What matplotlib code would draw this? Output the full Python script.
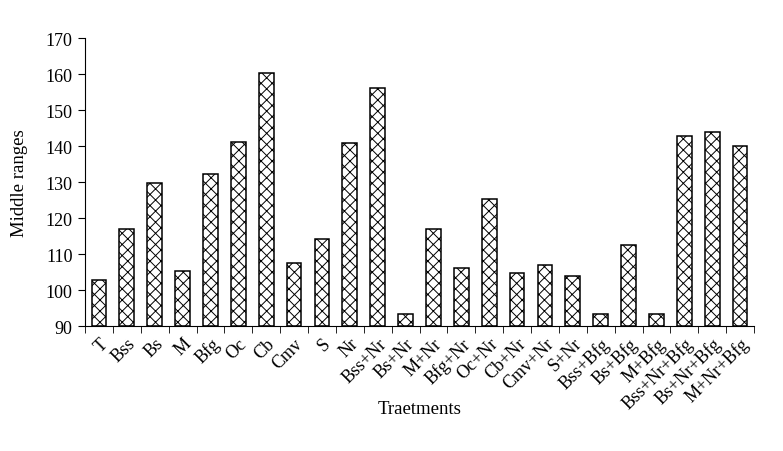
import numpy as np
import matplotlib.pyplot as plt

plt.rcParams['font.family'] = ['Liberation Serif', 'DejaVu Serif']
plt.rcParams['hatch.linewidth'] = 0.7

treatments = ['T', 'Bss', 'Bs', 'M', 'Bfg', 'Oc', 'Cb', 'Cmv', 'S', 'Nr',
              'Bss+Nr', 'Bs+Nr', 'M+Nr', 'Bfg+Nr', 'Oc+Nr', 'Cb+Nr', 'Cmv+Nr',
              'S+Nr', 'Bss+Bfg', 'Bs+Bfg', 'M+Bfg', 'Bss+Nr+Bfg', 'Bs+Nr+Bfg',
              'M+Nr+Bfg']
middle_ranges = [102.9, 117.1, 129.9, 105.4, 132.3, 141.2, 160.4, 107.7, 114.3,
                 140.9, 156.2, 93.5, 117.1, 106.3, 125.4, 104.9, 107.1, 104.1,
                 93.5, 112.7, 93.5, 142.9, 144.0, 140.1]

fig = plt.figure(figsize=(7.83, 4.52), dpi=100)
ax = fig.add_axes([0.1086, 0.276, 0.8544, 0.637])

x = np.arange(len(treatments))
ax.bar(x, np.array(middle_ranges) - 90, bottom=90, width=0.53,
       color='white', edgecolor='black', linewidth=1.1, hatch='xxx')

ax.set_ylim(90, 170)
ax.set_yticks(np.arange(90, 171, 10))
ax.set_xlim(-0.5, len(treatments) - 0.5)
ax.set_xticks(x)
ax.set_xticklabels(treatments, rotation=45, ha='right', rotation_mode='anchor',
                   fontsize=13)
ax.set_xticks(np.arange(-0.5, len(treatments), 1), minor=True)
ax.tick_params(axis='x', which='major', length=0, pad=6)
ax.tick_params(axis='x', which='minor', length=5, direction='out')
ax.tick_params(axis='y', labelsize=13, length=5, direction='out', pad=4)

ax.spines['top'].set_visible(False)
ax.spines['right'].set_visible(False)

ax.set_ylabel('Middle ranges', fontsize=13.5)
ax.yaxis.set_label_coords(-0.085, 0.5)
ax.set_xlabel('Traetments', fontsize=13.5)
ax.xaxis.set_label_coords(0.5, -0.255)

plt.savefig('out.png', dpi=100)
plt.close()
